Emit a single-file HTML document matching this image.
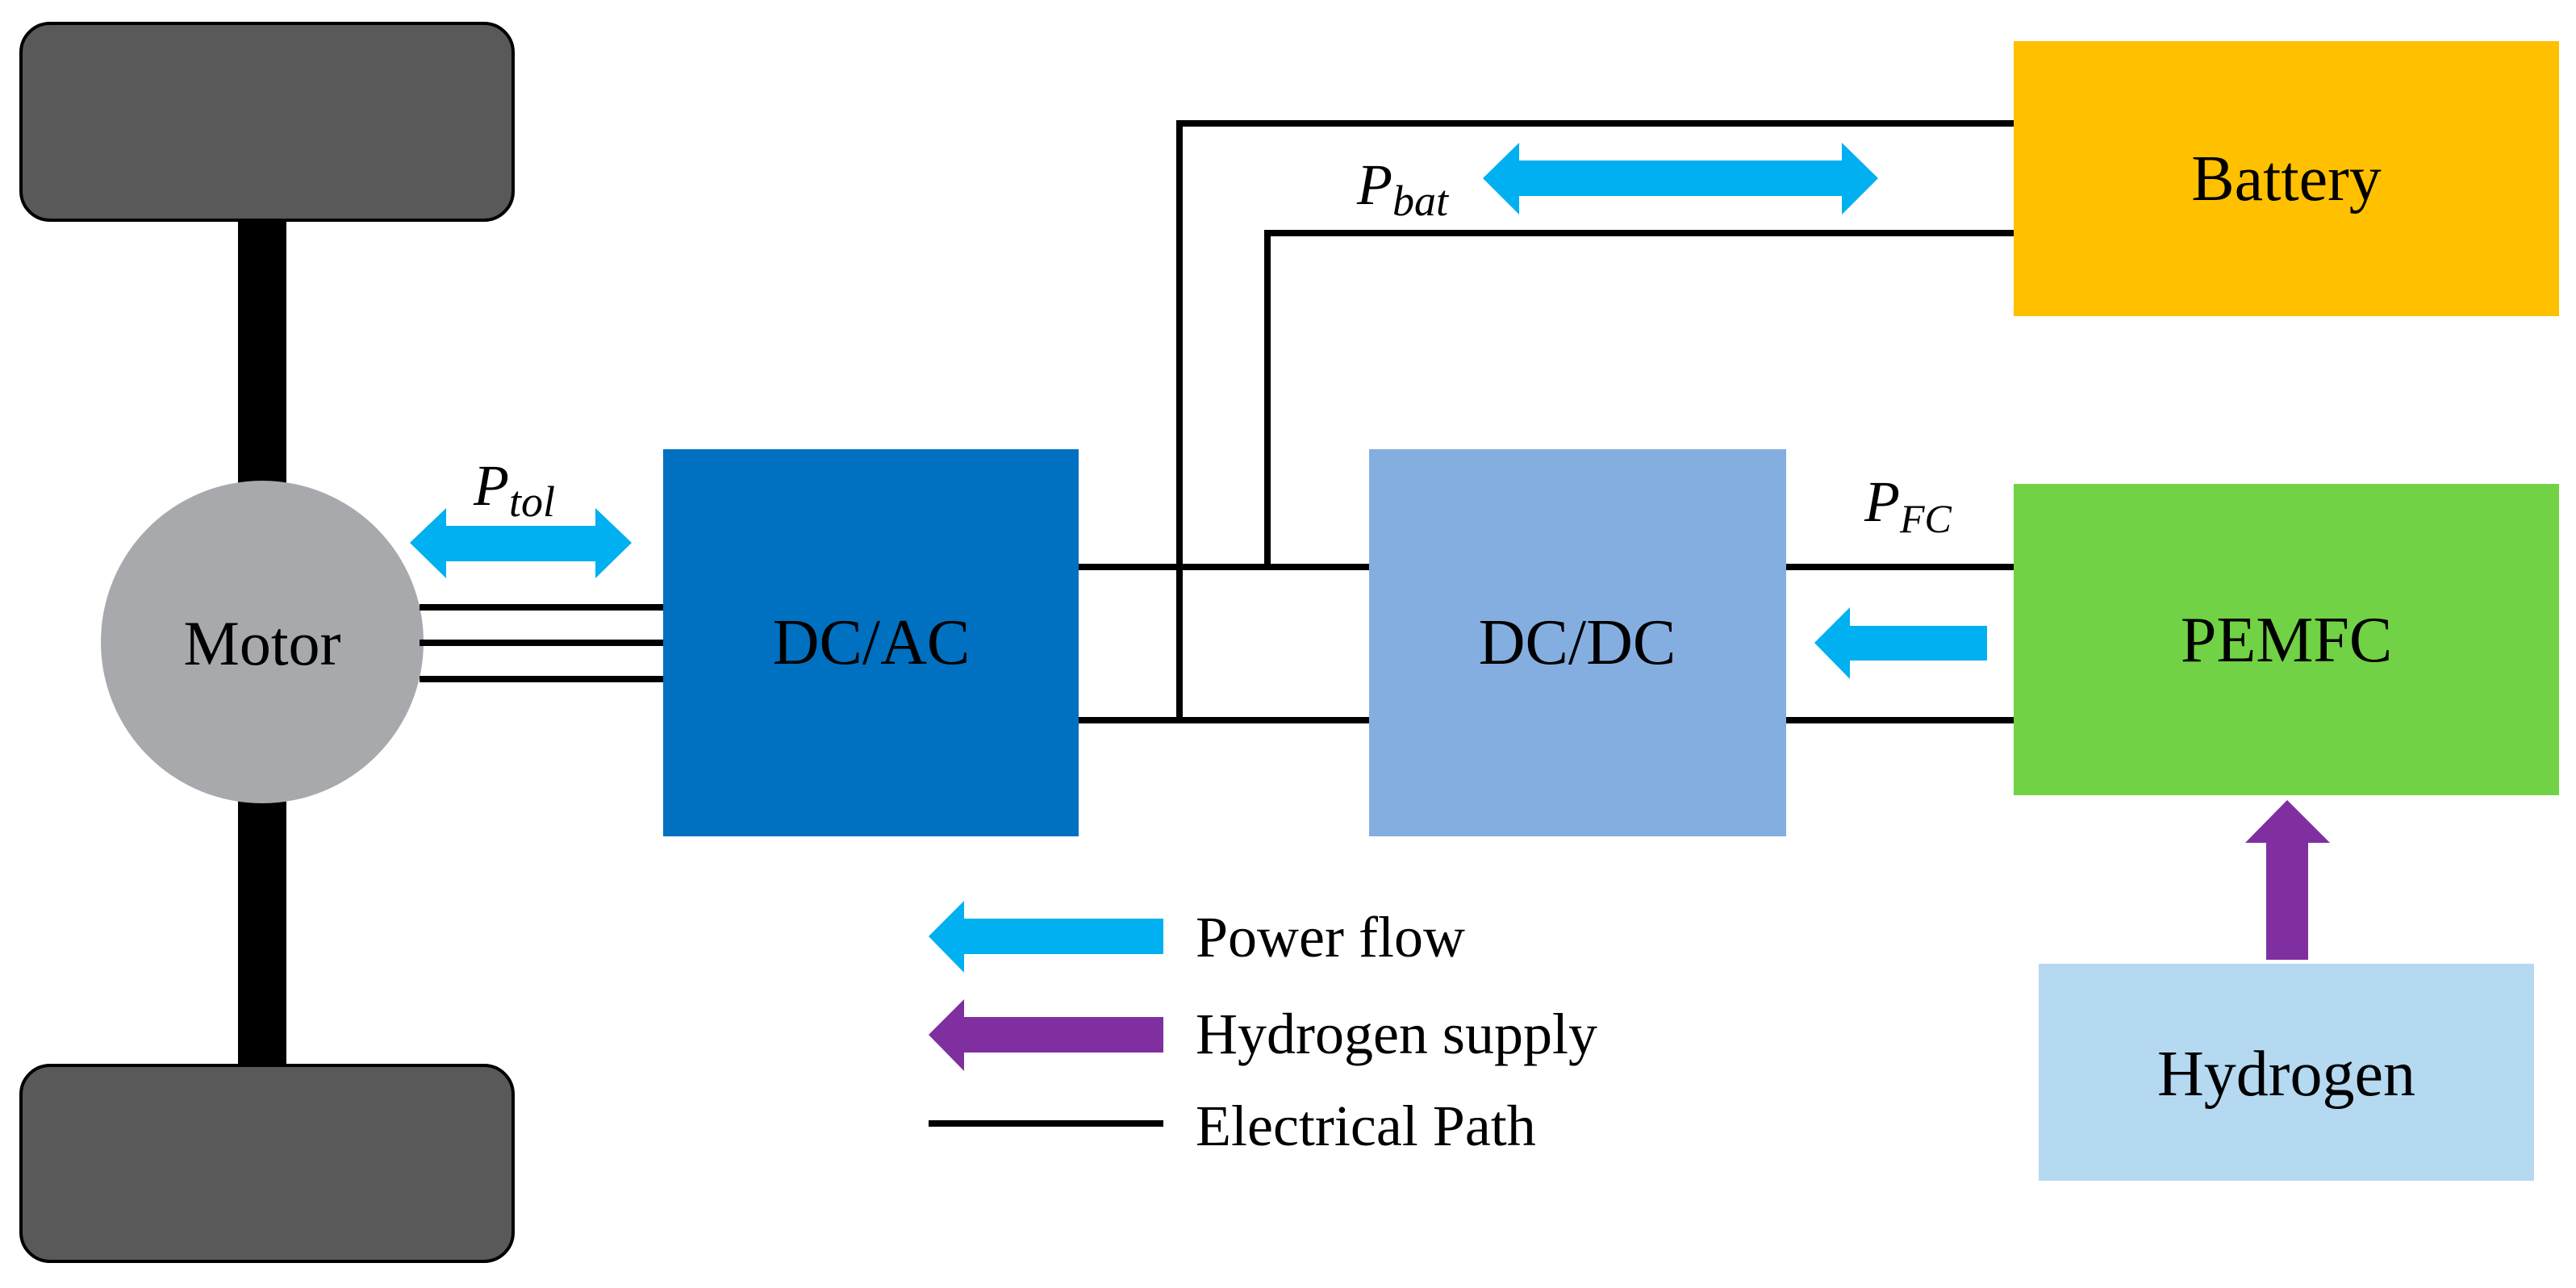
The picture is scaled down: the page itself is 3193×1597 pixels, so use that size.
<!DOCTYPE html>
<html><head><style>html,body{margin:0;padding:0;background:#fff}svg{display:block}</style></head><body>
<svg width="3193" height="1597" viewBox="0 0 3193 1597" xmlns="http://www.w3.org/2000/svg" font-family="Liberation Serif, serif">
<rect x="295" y="260" width="60" height="1080" fill="#000"/>
<rect x="26" y="29" width="610" height="244" rx="36" fill="#595959" stroke="#000" stroke-width="4"/>
<rect x="26" y="1321" width="610" height="243" rx="36" fill="#595959" stroke="#000" stroke-width="4"/>
<circle cx="325" cy="796" r="200" fill="#A8A9AD"/>
<text x="325" y="824" font-size="78" text-anchor="middle">Motor</text>
<g stroke="#000" stroke-width="8">
<line x1="520" y1="753" x2="824" y2="753"/>
<line x1="520" y1="797" x2="824" y2="797"/>
<line x1="520" y1="842" x2="824" y2="842"/>
<line x1="1337" y1="703" x2="1697" y2="703"/>
<line x1="1337" y1="893" x2="1697" y2="893"/>
<polyline points="1462,893 1462,153 2496,153" fill="none"/>
<polyline points="1571,703 1571,289 2496,289" fill="none"/>
<line x1="2214" y1="703" x2="2496" y2="703"/>
<line x1="2214" y1="893" x2="2496" y2="893"/>
<line x1="1151" y1="1393" x2="1442" y2="1393"/>
</g>
<rect x="822" y="557" width="515" height="480" fill="#0070C0"/>
<text x="1080" y="823" font-size="80" text-anchor="middle">DC/AC</text>
<rect x="1697" y="557" width="517" height="480" fill="#84AEDF"/>
<text x="1955" y="823" font-size="80" text-anchor="middle">DC/DC</text>
<rect x="2496" y="51" width="676" height="341" fill="#FFC000"/>
<text x="2834" y="248" font-size="80" text-anchor="middle">Battery</text>
<rect x="2496" y="600" width="676" height="386" fill="#70D244"/>
<text x="2834" y="820" font-size="80" text-anchor="middle">PEMFC</text>
<rect x="2527" y="1195" width="614" height="269" fill="#B4D9F0"/>
<text x="2834" y="1358" font-size="80" text-anchor="middle">Hydrogen</text>
<polygon points="508,673 553,630 553,652 738,652 738,630 783,673 738,717 738,696 553,696 553,717" fill="#00B0F0"/>
<polygon points="1838,221 1883,177 1883,199 2283,199 2283,177 2328,221 2283,266 2283,243 1883,243 1883,266" fill="#00B0F0"/>
<polygon points="2249,797 2293,753 2293,776 2463,776 2463,819 2293,819 2293,842" fill="#00B0F0"/>
<polygon points="2835,992 2888,1045 2861,1045 2861,1190 2809,1190 2809,1045 2783,1045" fill="#7F2FA0"/>
<polygon points="1151,1161 1195,1117 1195,1139 1442,1139 1442,1183 1195,1183 1195,1206" fill="#00B0F0"/>
<polygon points="1151,1283 1195,1239 1195,1261 1442,1261 1442,1305 1195,1305 1195,1328" fill="#7F2FA0"/>
<g font-size="72">
<text x="1482" y="1186">Power flow</text>
<text x="1482" y="1306">Hydrogen supply</text>
<text x="1482" y="1420">Electrical Path</text>
</g>
<g font-style="italic">
<text x="587" y="626" font-size="72">P<tspan font-size="54" dy="14">tol</tspan></text>
<text x="1682" y="253" font-size="72">P<tspan font-size="54" dy="14">bat</tspan></text>
<text x="2311" y="646" font-size="72">P<tspan font-size="50" dy="14">FC</tspan></text>
</g>
</svg>
</body></html>
